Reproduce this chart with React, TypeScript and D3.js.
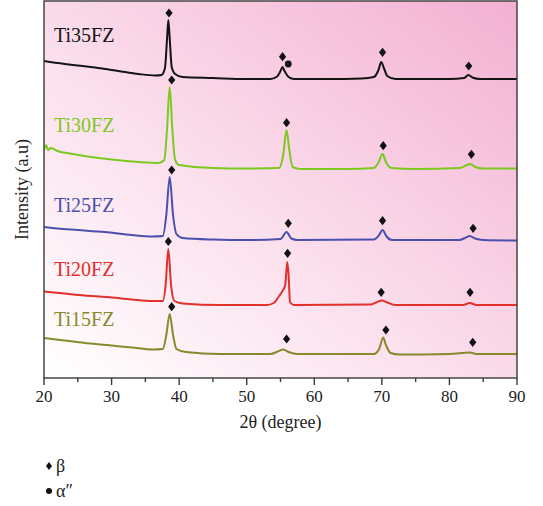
import React from "react";
import * as d3 from "d3";

// 2θ (degree), intensity (a.u.)
const ti35: [number, number][] = [
  [20, 3170], [22, 3150], [25, 3125], [28, 3100], [31, 3070], [34, 3040], [36.5, 3025], [37.4, 3030],
  [37.9, 3100], [38.2, 3380], [38.4, 3580], [38.6, 3400], [38.9, 3110], [39.4, 3040], [40.5, 3010],
  [45, 3000], [50, 2990], [53.5, 2990], [54.5, 3015], [55.0, 3070], [55.3, 3110], [55.6, 3070],
  [56.2, 3010], [57, 2990], [62, 2990], [67, 2995], [68.8, 3010], [69.5, 3080], [69.9, 3160],
  [70.3, 3100], [70.8, 3020], [72, 2990], [80, 2990], [82.2, 3000], [82.8, 3030], [83.4, 3005],
  [84.5, 2990], [90, 2990],
];
const ti30: [number, number][] = [
  [20, 2280], [20.3, 2330], [20.6, 2280], [21, 2300], [22, 2270], [24.3, 2240], [27, 2210], [30, 2185],
  [34, 2160], [37.0, 2150], [37.8, 2180], [38.2, 2480], [38.6, 2910], [39.0, 2480], [39.4, 2180],
  [40, 2130], [45, 2100], [50, 2095], [54.8, 2100], [55.4, 2230], [55.9, 2480], [56.3, 2280],
  [56.8, 2110], [58, 2090], [65, 2090], [68.8, 2100], [69.6, 2170], [70.1, 2240], [70.6, 2160],
  [71.4, 2100], [75, 2090], [81.5, 2100], [82.6, 2130], [83.1, 2140], [83.8, 2110], [85, 2095], [90, 2095],
];
const ti25: [number, number][] = [
  [20, 1510], [22, 1495], [25, 1480], [29, 1460], [33, 1430], [36, 1415], [37.6, 1420], [38.1, 1630],
  [38.6, 2010], [39.1, 1630], [39.6, 1440], [40.5, 1400], [45, 1385], [50, 1380], [55.0, 1390],
  [55.9, 1460], [56.6, 1395], [57.5, 1380], [68.8, 1385], [69.6, 1430], [70.1, 1480], [70.7, 1415],
  [71.5, 1380], [81.5, 1380], [82.3, 1400], [83.0, 1420], [83.8, 1395], [85, 1380], [90, 1375],
];
const ti20: [number, number][] = [
  [20, 865], [23, 845], [26, 825], [29.3, 810], [33, 785], [36, 770], [37.6, 770], [38.0, 930],
  [38.4, 1290], [38.8, 930], [39.3, 770], [40.5, 745], [46, 730], [53, 730], [54.0, 750], [54.8, 820],
  [55.3, 870], [55.7, 930], [56.0, 1160], [56.2, 1030], [56.4, 760], [57, 730], [68.3, 735],
  [69.3, 760], [70.0, 775], [70.8, 755], [72, 730], [82, 730], [83.0, 750], [84, 730], [90, 730],
];
const ti15: [number, number][] = [
  [20, 400], [23, 375], [26, 350], [29.3, 330], [33, 305], [36.1, 285], [37.6, 290], [38.1, 430],
  [38.6, 640], [39.1, 430], [39.6, 290], [41, 260], [46, 240], [53.5, 240], [54.6, 265], [55.4, 285],
  [56.2, 260], [57.5, 240], [68.8, 240], [69.6, 290], [70.2, 405], [70.6, 330], [71.3, 250],
  [72.5, 235], [80, 240], [83.0, 255], [84, 240], [90, 240],
];

const seriesNames = ["Ti35FZ", "Ti30FZ", "Ti25FZ", "Ti20FZ", "Ti15FZ"];
const seriesData = [ti35, ti30, ti25, ti20, ti15];
const seriesColors = ["#141414", "#7cc91f", "#4b50ae", "#e2302c", "#878a2c"];
const labelIntensity = [3360, 2460, 1660, 1020, 520];

// phase markers
const betaMarks: [number, number][] = [
  [38.5, 3650], [55.3, 3213], [70.1, 3257], [82.85, 3120],
  [38.9, 2980], [55.9, 2553], [70.2, 2323], [83.25, 2237],
  [38.9, 2080], [56.15, 1547], [70.1, 1573], [83.5, 1497],
  [38.4, 1365], [56.05, 1247], [69.9, 857], [83.05, 857],
  [38.9, 713], [55.9, 390], [70.6, 480], [83.45, 357],
];
const alphaMarks: [number, number][] = [[56.15, 3140]];

const xTicks = [20, 30, 40, 50, 60, 70, 80, 90];
const xMinorTicks = [25, 35, 45, 55, 65, 75, 85];

export default function App() {
  const W = 543, H = 506;
  const left = 44, right = 517, top = 1, bottom = 378;
  const x = d3.scaleLinear().domain([20, 90]).range([left, right]);
  const y = d3.scaleLinear().domain([0, 3770]).range([bottom, top]);
  const line = d3.line<[number, number]>().x(d => x(d[0])).y(d => y(d[1])).curve(d3.curveMonotoneX);
  const font = "'Liberation Serif', 'DejaVu Serif', serif";
  const diamond = (cx: number, cy: number, w: number, h: number) =>
    `M${cx},${cy - h}L${cx + w},${cy}L${cx},${cy + h}L${cx - w},${cy}Z`;

  return (
    <svg width={W} height={H} style={{ position: "absolute", left: 0, top: 0 }} fontFamily={font}>
      <defs>
        <linearGradient id="bg" x1="0" y1="1" x2="1" y2="0">
          <stop offset="0" stopColor="#ffffff" />
          <stop offset="0.45" stopColor="#fbdeec" />
          <stop offset="1" stopColor="#f3b0d1" />
        </linearGradient>
        <clipPath id="clip">
          <rect x={left} y={top} width={right - left} height={bottom - top} />
        </clipPath>
      </defs>
      <rect width={W} height={H} fill="#ffffff" />
      <rect x={left} y={top} width={right - left} height={bottom - top} fill="url(#bg)" />
      <g clipPath="url(#clip)">
        {seriesData.map((d, i) => (
          <path key={i} d={line(d) || ""} fill="none" stroke={seriesColors[i]} strokeWidth={2} strokeLinejoin="round" />
        ))}
      </g>
      {betaMarks.map((m, i) => (
        <path key={"b" + i} d={diamond(x(m[0]), y(m[1]), 3.6, 4.6)} fill="#111" />
      ))}
      {alphaMarks.map((m, i) => (
        <circle key={"a" + i} cx={x(m[0])} cy={y(m[1])} r={3.4} fill="#111" />
      ))}
      {seriesNames.map((n, i) => (
        <text key={n} x={54} y={y(labelIntensity[i])} fontSize={20} fill={seriesColors[i]}>{n}</text>
      ))}
      <rect x={left} y={top} width={right - left} height={bottom - top} fill="none" stroke="#3a3a3a" strokeWidth={1.4} />
      {xTicks.map(t => (
        <g key={t}>
          <line x1={x(t)} x2={x(t)} y1={bottom} y2={bottom + 7} stroke="#3a3a3a" strokeWidth={1.4} />
          <text x={x(t)} y={bottom + 24} fontSize={17} textAnchor="middle" fill="#222">{t}</text>
        </g>
      ))}
      {xMinorTicks.map(t => (
        <line key={t} x1={x(t)} x2={x(t)} y1={bottom} y2={bottom + 4} stroke="#3a3a3a" strokeWidth={1.4} />
      ))}
      <text x={(left + right) / 2} y={bottom + 50} fontSize={18} textAnchor="middle" fill="#222">2θ (degree)</text>
      <text transform={`translate(28,${(top + bottom) / 2}) rotate(-90)`} fontSize={18} textAnchor="middle" fill="#222">Intensity (a.u)</text>
      <path d={diamond(49, 466, 3, 4)} fill="#111" />
      <text x={56} y={472} fontSize={18} fill="#222">β</text>
      <circle cx={49} cy={491} r={3} fill="#111" />
      <text x={56} y={497} fontSize={18} fill="#222">α″</text>
    </svg>
  );
}
